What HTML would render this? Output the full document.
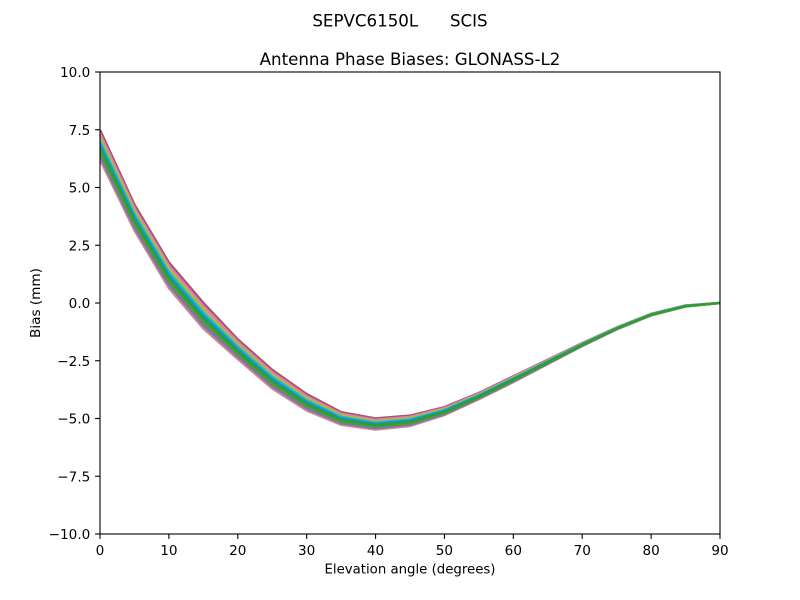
<!DOCTYPE html>
<html>
<head>
<meta charset="utf-8">
<style>
html,body{margin:0;padding:0;background:#fff;}
svg{display:block;}
text{font-family:"DejaVu Sans","Liberation Sans",sans-serif;fill:#000;}
</style>
</head>
<body>
<svg width="800" height="600" viewBox="0 0 800 600" xmlns="http://www.w3.org/2000/svg">
<rect x="0" y="0" width="800" height="600" fill="#fff"/>
<defs>
<clipPath id="ax"><rect x="100" y="72" width="620" height="462"/></clipPath>
</defs>
<g clip-path="url(#ax)" fill="none" stroke-width="2.6" stroke-linejoin="round">
<polygon fill="#6aa58e" stroke="none" points="100,130.2 134.44,204.8 168.89,262.6 203.33,303 237.78,339.5 272.22,370 306.67,394.2 341.11,412.3 375.56,418.5 410,415.7 444.44,407.2 478.89,393.1 513.33,376.4 547.78,359.8 582.22,343.2 616.67,327.5 651.11,313.9 685.56,305.5 720,303 720,303 685.56,306.5 651.11,315.3 616.67,329.3 582.22,346 547.78,364 513.33,382 478.89,399.1 444.44,415 410,425.9 375.56,429.5 341.11,424.7 306.67,410.4 272.22,388.4 237.78,358.9 203.33,328.4 168.89,288 134.44,230.2 100,159.4"/>
<polyline stroke="#a0566b" points="100,130.2 134.44,204.8 168.89,262.6 203.33,303 237.78,339.5 272.22,370 306.67,394.2 341.11,412.3 375.56,418.5 410,415.7 444.44,407.2 478.89,393.1 513.33,376.4 547.78,359.8 582.22,343.2 616.67,327.5 651.11,313.9 685.56,305.5 720,303"/>
<polyline stroke="#e377c2" points="100,133.85 134.44,207.98 168.89,265.78 203.33,306.18 237.78,341.93 272.22,372.3 306.67,396.23 341.11,413.85 375.56,419.88 410,416.98 444.44,408.18 478.89,393.85 513.33,377.1 547.78,360.33 582.22,343.55 616.67,327.73 651.11,314.08 685.56,305.63 720,303"/>
<polyline stroke="#bcbd22" points="100,137.5 134.44,211.15 168.89,268.95 203.33,309.35 237.78,344.35 272.22,374.6 306.67,398.25 341.11,415.4 375.56,421.25 410,418.25 444.44,409.15 478.89,394.6 513.33,377.8 547.78,360.85 582.22,343.9 616.67,327.95 651.11,314.25 685.56,305.75 720,303"/>
<polyline stroke="#17becf" points="100,141.15 134.44,214.33 168.89,272.13 203.33,312.53 237.78,346.78 272.22,376.9 306.67,400.28 341.11,416.95 375.56,422.63 410,419.53 444.44,410.13 478.89,395.35 513.33,378.5 547.78,361.38 582.22,344.25 616.67,328.18 651.11,314.43 685.56,305.88 720,303"/>
<polyline stroke="#1f8fbf" points="100,144.8 134.44,217.5 168.89,275.3 203.33,315.7 237.78,349.2 272.22,379.2 306.67,402.3 341.11,418.5 375.56,424 410,420.8 444.44,411.1 478.89,396.1 513.33,379.2 547.78,361.9 582.22,344.6 616.67,328.4 651.11,314.6 685.56,306 720,303"/>
<polyline stroke="#c48d8d" points="100,159.4 134.44,230.2 168.89,288 203.33,328.4 237.78,358.9 272.22,388.4 306.67,410.4 341.11,424.7 375.56,429.5 410,425.9 444.44,415 478.89,399.1 513.33,382 547.78,364 582.22,346 616.67,329.3 651.11,315.3 685.56,306.5 720,303"/>
<polyline stroke="#9467bd" points="100,155.75 134.44,227.03 168.89,284.83 203.33,325.23 237.78,356.48 272.22,386.1 306.67,408.38 341.11,423.15 375.56,428.13 410,424.63 444.44,414.03 478.89,398.35 513.33,381.3 547.78,363.48 582.22,345.65 616.67,329.08 651.11,315.13 685.56,306.38 720,303"/>
<polyline stroke="#4aa03a" points="100,152.1 134.44,223.85 168.89,281.65 203.33,322.05 237.78,354.05 272.22,383.8 306.67,406.35 341.11,421.6 375.56,426.75 410,423.35 444.44,413.05 478.89,397.6 513.33,380.6 547.78,362.95 582.22,345.3 616.67,328.85 651.11,314.95 685.56,306.25 720,303"/>
<polyline stroke="#2ca02c" stroke-width="2.2" points="100,148.45 134.44,220.68 168.89,278.48 203.33,318.88 237.78,351.63 272.22,381.5 306.67,404.33 341.11,420.05 375.56,425.38 410,422.08 444.44,412.08 478.89,396.85 513.33,379.9 547.78,362.43 582.22,344.95 616.67,328.63 651.11,314.78 685.56,306.13 720,303"/>
</g>
<!-- axes frame -->
<rect x="100" y="72" width="620" height="462" fill="none" stroke="#000" stroke-width="1.1"/>
<!-- ticks -->
<g stroke="#000" stroke-width="1.1">
<line x1="95.1" y1="72" x2="100" y2="72"/>
<line x1="95.1" y1="129.75" x2="100" y2="129.75"/>
<line x1="95.1" y1="187.5" x2="100" y2="187.5"/>
<line x1="95.1" y1="245.25" x2="100" y2="245.25"/>
<line x1="95.1" y1="303" x2="100" y2="303"/>
<line x1="95.1" y1="360.75" x2="100" y2="360.75"/>
<line x1="95.1" y1="418.5" x2="100" y2="418.5"/>
<line x1="95.1" y1="476.25" x2="100" y2="476.25"/>
<line x1="95.1" y1="534" x2="100" y2="534"/>
<line x1="100" y1="534" x2="100" y2="538.9"/>
<line x1="168.89" y1="534" x2="168.89" y2="538.9"/>
<line x1="237.78" y1="534" x2="237.78" y2="538.9"/>
<line x1="306.67" y1="534" x2="306.67" y2="538.9"/>
<line x1="375.56" y1="534" x2="375.56" y2="538.9"/>
<line x1="444.44" y1="534" x2="444.44" y2="538.9"/>
<line x1="513.33" y1="534" x2="513.33" y2="538.9"/>
<line x1="582.22" y1="534" x2="582.22" y2="538.9"/>
<line x1="651.11" y1="534" x2="651.11" y2="538.9"/>
<line x1="720" y1="534" x2="720" y2="538.9"/>
</g>
<g font-size="13.6" text-anchor="end">
<text x="90.3" y="77">10.0</text>
<text x="90.3" y="134.75">7.5</text>
<text x="90.3" y="192.5">5.0</text>
<text x="90.3" y="250.25">2.5</text>
<text x="90.3" y="308">0.0</text>
<text x="90.3" y="365.75">−2.5</text>
<text x="90.3" y="423.5">−5.0</text>
<text x="90.3" y="481.25">−7.5</text>
<text x="90.3" y="539">−10.0</text>
</g>
<g font-size="13.6" text-anchor="middle">
<text x="100" y="555">0</text>
<text x="168.89" y="555">10</text>
<text x="237.78" y="555">20</text>
<text x="306.67" y="555">30</text>
<text x="375.56" y="555">40</text>
<text x="444.44" y="555">50</text>
<text x="513.33" y="555">60</text>
<text x="582.22" y="555">70</text>
<text x="651.11" y="555">80</text>
<text x="720" y="555">90</text>
</g>
<text x="410" y="573.5" font-size="13.3" text-anchor="middle">Elevation angle (degrees)</text>
<text transform="translate(40,303) rotate(-90)" font-size="13.6" text-anchor="middle">Bias (mm)</text>
<text x="410" y="65" font-size="16.67" text-anchor="middle">Antenna Phase Biases: GLONASS-L2</text>
<text x="400" y="26.5" font-size="16.67" text-anchor="middle" xml:space="preserve" style="white-space:pre">SEPVC6150L      SCIS</text>
</svg>
</body>
</html>
